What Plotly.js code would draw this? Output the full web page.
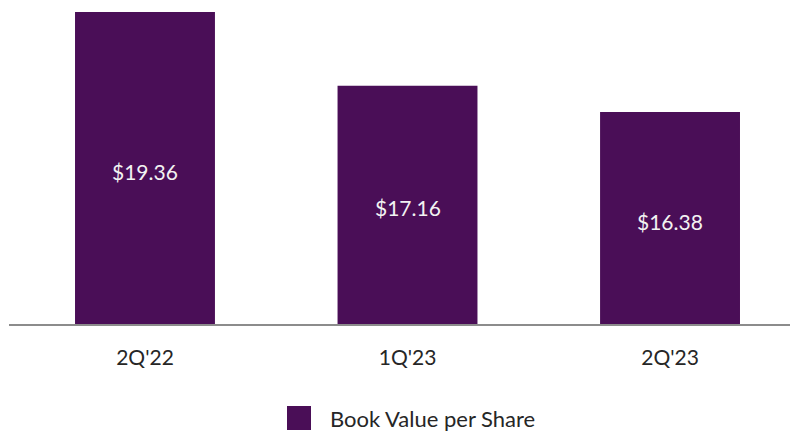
<!DOCTYPE html>
<html>
<head>
<meta charset="utf-8">
<script src="https://cdn.plot.ly/plotly-3.0.1.min.js"></script>
<style>
  html, body { margin: 0; padding: 0; background: #ffffff; }
  #chart { width: 790px; height: 431px; }
</style>
</head>
<body>
<div id="chart"></div>
<script>
const categories = ["2Q'22", "1Q'23", "2Q'23"];
const bookValuePerShare = [19.36, 17.16, 16.38];
const valueLabels = ["$19.36", "$17.16", "$16.38"];
const seriesName = "Book Value per Share";

const W = 790, H = 431;
const M = { l: 9, r: 0, t: 0, b: 107 };
const PW = W - M.l - M.r, PH = H - M.t - M.b;
const px2x = p => (p - M.l) / PW;
const py2y = p => (M.t + PH - p) / PH;

const FONT = "Lato, 'Open Sans', sans-serif";
const barColor = "#4A0E57";
const yRange = [10.06, 19.72];

const trace = {
  type: "bar",
  x: categories,
  y: bookValuePerShare,
  name: seriesName,
  marker: { color: barColor, line: { width: 0 } },
  hoverinfo: "skip",
  showlegend: false
};

const labelAnnotations = categories.map((c, i) => ({
  xref: "x", yref: "y",
  x: c, y: (yRange[0] + bookValuePerShare[i]) / 2,
  text: valueLabels[i], showarrow: false,
  xanchor: "center", yanchor: "middle", yshift: -3,
  font: { family: FONT, size: 21, color: "#F2F2F2" }
}));

const layout = {
  width: W, height: H,
  margin: M,
  paper_bgcolor: "#ffffff",
  plot_bgcolor: "#ffffff",
  bargap: 0.467,
  showlegend: false,
  xaxis: {
    type: "category",
    range: [-0.518, 2.457],
    showline: true, linecolor: "#8C8C8C", linewidth: 2,
    showgrid: false, zeroline: false, ticks: "",
    tickfont: { family: FONT, size: 21, color: "#262626" },
    ticklabelstandoff: 14,
    fixedrange: true
  },
  yaxis: {
    range: yRange,
    visible: false,
    showgrid: false, zeroline: false,
    fixedrange: true
  },
  shapes: [{
    type: "rect", xref: "paper", yref: "paper",
    x0: px2x(287), x1: px2x(311), y0: py2y(430), y1: py2y(406),
    fillcolor: barColor, line: { width: 0 }
  }],
  annotations: labelAnnotations.concat([{
    xref: "paper", yref: "paper",
    x: px2x(328), y: py2y(418),
    xanchor: "left", yanchor: "middle",
    text: seriesName, showarrow: false,
    font: { family: FONT, size: 22, color: "#262626" }
  }])
};

Plotly.newPlot("chart", [trace], layout, { displayModeBar: false, staticPlot: true });
</script>
</body>
</html>
